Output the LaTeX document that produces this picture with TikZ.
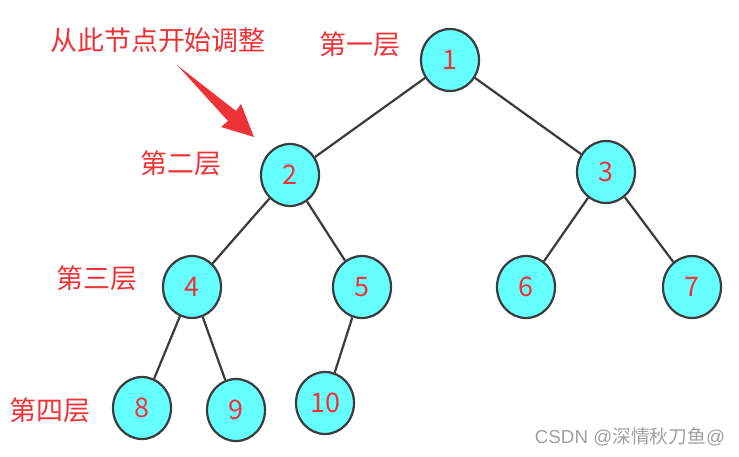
\documentclass[tikz,border=0pt]{standalone}
\usepackage{fontspec}
\newfontfamily\cjk{Noto Sans CJK SC}
\usetikzlibrary{shapes.geometric}
\definecolor{heapcyan}{HTML}{66FFFF}
\definecolor{labelred}{HTML}{EE3338}
\definecolor{edgegray}{HTML}{3C3C3C}
\begin{document}
\begin{tikzpicture}[x=0.03cm, y=-0.03cm,
    heapnode/.style={ellipse, draw=edgegray, line width=1.9pt, fill=heapcyan,
        minimum width=1.74cm, minimum height=1.86cm, inner sep=0pt,
        text=labelred, font=\cjk\fontsize{23}{25}\selectfont},
    heapedge/.style={edgegray, line width=1.9pt},
    levellabel/.style={text=labelred, font=\cjk\fontsize{23}{25}\selectfont}]
    \useasboundingbox (0,0) rectangle (739,457);

    % --- Các nút của đống ---
    \node[heapnode] (n1) at (450, 60) {1};
    \node[heapnode] (n2) at (290, 175) {2};
    \node[heapnode] (n3) at (606, 172) {3};
    \node[heapnode] (n4) at (192, 287) {4};
    \node[heapnode] (n5) at (362, 287) {5};
    \node[heapnode] (n6) at (526, 287) {6};
    \node[heapnode] (n7) at (692, 287) {7};
    \node[heapnode] (n8) at (142, 408) {8};
    \node[heapnode] (n9) at (236, 410) {9};
    \node[heapnode] (n10) at (325, 403) {10};

    % --- Các cạnh ---
    \draw[heapedge] (n1) -- (n2);
    \draw[heapedge] (n1) -- (n3);
    \draw[heapedge] (n2) -- (n4);
    \draw[heapedge] (n2) -- (n5);
    \draw[heapedge] (n3) -- (n6);
    \draw[heapedge] (n3) -- (n7);
    \draw[heapedge] (n4) -- (n8);
    \draw[heapedge] (n4) -- (n9);
    \draw[heapedge] (n5) -- (n10);

    % --- Nhãn các tầng ---
    \node[levellabel] (l1) at (360, 44) {第一层};
    \node[levellabel] (l2) at (181, 163) {第二层};
    \node[levellabel] (l3) at (97, 278) {第三层};
    \node[levellabel] (l4) at (50, 410) {第四层};

    % --- Chú thích và mũi tên ---
    \node[levellabel] (start) at (158, 40) {从此节点开始调整};
    \fill[labelred] (177, 65) -- (236, 111) -- (241, 104) -- (254, 137)
        -- (221, 127) -- (228, 121) -- cycle;

    % --- Watermark ---
    \node[text=gray!75, font=\fontspec{Liberation Sans}\fontsize{16}{18}\selectfont]
        (mark) at (630, 437) {CSDN @{\cjk 深情秋刀鱼}@};
\end{tikzpicture}
\end{document}
